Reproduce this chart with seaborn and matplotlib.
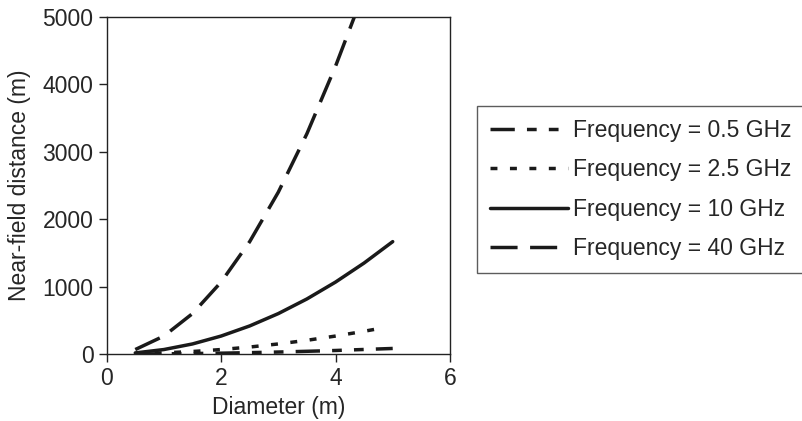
import pandas as pd
import matplotlib
matplotlib.use('Agg')
import matplotlib.pyplot as plt
import seaborn as sns

# values
diam_05 = [0.5, 1.0, 1.5, 2.0, 2.5, 3.0, 3.5, 4.0, 4.5, 5.0]
dist_05 = [1, 3, 8, 13, 21, 30, 41, 53, 68, 83]

diam_25 = [0.5, 1.0, 1.5, 2.0, 2.5, 3.0, 3.5, 4.0, 4.5, 4.8]
dist_25 = [4, 17, 38, 67, 104, 150, 204, 267, 338, 384]

diam_10 = [0.5, 1.0, 1.5, 2.0, 2.5, 3.0, 3.5, 4.0, 4.5, 5.0]
dist_10 = [17, 67, 150, 267, 417, 600, 817, 1067, 1350, 1667]

diam_40 = [0.5, 1.0, 1.5, 2.0, 2.5, 3.0, 3.5, 4.0, 4.33]
dist_40 = [67, 267, 600, 1067, 1667, 2400, 3267, 4267, 5000]

labels = ['Frequency = 0.5 GHz', 'Frequency = 2.5 GHz',
          'Frequency = 10 GHz', 'Frequency = 40 GHz']

frames = []
for lab, xs, ys in zip(labels, [diam_05, diam_25, diam_10, diam_40],
                       [dist_05, dist_25, dist_10, dist_40]):
    frames.append(pd.DataFrame({'Diameter': xs, 'Distance': ys, 'Frequency': lab}))
df = pd.concat(frames, ignore_index=True)

dash_map = {
    labels[0]: (7, 3.5, 2.8, 3.5, 2.8, 3.5),
    labels[1]: (2, 3.6),
    labels[2]: '',
    labels[3]: (7.8, 3.6),
}

FS = 16.5
sns.set_style('ticks')
plt.rcParams['font.family'] = ['Liberation Sans', 'DejaVu Sans']
plt.rcParams['font.size'] = FS

fig = plt.figure(figsize=(8.02, 4.21), dpi=100)
ax = fig.add_axes([0.133, 0.159, 0.428, 0.801])

sns.lineplot(data=df, x='Diameter', y='Distance', style='Frequency',
             style_order=labels, dashes=dash_map, color='#1a1a1a',
             linewidth=2.5, ax=ax, sort=False, estimator=None)

ax.set_xlim(0, 6)
ax.set_ylim(0, 5000)
ax.set_xticks([0, 2, 4, 6])
ax.set_yticks([0, 1000, 2000, 3000, 4000, 5000])
ax.set_xlabel('Diameter (m)', fontsize=FS, labelpad=4)
ax.set_ylabel('Near-field distance (m)', fontsize=FS, labelpad=8)
ax.tick_params(labelsize=FS, direction='out', length=6, width=1, color='#222222')
for sp in ax.spines.values():
    sp.set_linewidth(1.0)
    sp.set_color('#222222')

handles, _ = ax.get_legend_handles_labels()
ax.get_legend().remove()
leg = fig.legend(handles[-4:], labels, loc='upper left',
                 bbox_to_anchor=(0.595, 0.748, 0.42, 0.0), mode='expand',
                 handlelength=3.4, handletextpad=0.25, labelspacing=0.72,
                 borderpad=0.55, borderaxespad=0.0, frameon=True,
                 fancybox=False, fontsize=FS)
leg.get_frame().set_edgecolor('#333333')
leg.get_frame().set_linewidth(1.0)

fig.savefig('out.png', dpi=100)
